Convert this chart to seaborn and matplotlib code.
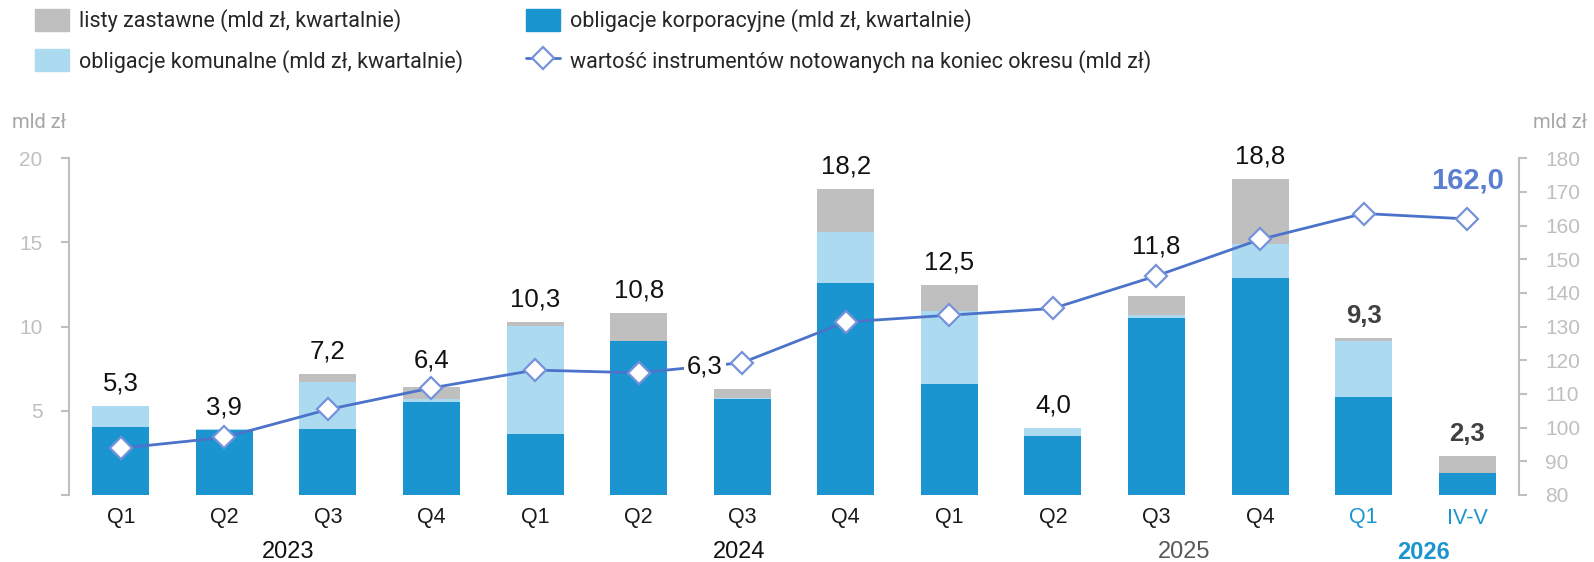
import numpy as np
import pandas as pd
import matplotlib
matplotlib.use('Agg')
import matplotlib.pyplot as plt
import matplotlib.transforms as mtransforms
from matplotlib.patches import Patch
from matplotlib.lines import Line2D
import seaborn as sns

# dane
okresy = ['2023 Q1', '2023 Q2', '2023 Q3', '2023 Q4', '2024 Q1', '2024 Q2', '2024 Q3', '2024 Q4',
          '2025 Q1', '2025 Q2', '2025 Q3', '2025 Q4', '2026 Q1', '2026 IV-V']
kwartaly = ['Q1', 'Q2', 'Q3', 'Q4', 'Q1', 'Q2', 'Q3', 'Q4', 'Q1', 'Q2', 'Q3', 'Q4', 'Q1', 'IV-V']
lata = ['2023', '2024', '2025', '2026']
korporacyjne = [4.05, 3.85, 3.95, 5.5, 3.6, 9.15, 5.7, 12.6, 6.6, 3.5, 10.5, 12.9, 5.8, 1.3]
komunalne = [1.25, 0.05, 2.75, 0.2, 6.45, 0.0, 0.05, 3.0, 4.3, 0.5, 0.2, 2.0, 3.35, 0.0]
listy = [0.0, 0.0, 0.5, 0.7, 0.25, 1.65, 0.55, 2.6, 1.6, 0.0, 1.1, 3.9, 0.15, 1.0]
wartosc = [93.9, 97.1, 105.4, 111.8, 117.1, 116.3, 119.3, 131.4, 133.4, 135.4, 145.1, 155.9, 163.6, 162.0]

df = pd.DataFrame({'okres': okresy, 'korp': korporacyjne, 'kom': komunalne, 'listy': listy,
                   'wartosc': wartosc})
df['korp_kom'] = df['korp'] + df['kom']
df['suma'] = df['korp_kom'] + df['listy']
df['poz'] = np.arange(len(df))

C_KORP = '#1B95CF'
C_KOM = '#ABDAF1'
C_LISTY = '#BFBFBF'
C_LINIA = '#4A73C9'
C_MARKER = '#7592DA'
C_OS = '#BFBFBF'

sns.set_theme(style='white')
plt.rcParams['font.family'] = ['Liberation Sans', 'DejaVu Sans']

fig = plt.figure(figsize=(15.94, 5.62), dpi=100)
ax = fig.add_axes([69 / 1594, 1 - 495 / 562, (1519 - 69) / 1594, (495 - 158.3) / 562])

# słupki skumulowane (nakładane od sumy do korporacyjnych)
sns.barplot(data=df, x='okres', y='suma', order=okresy, color=C_LISTY, width=0.55,
            saturation=1, linewidth=0, ax=ax)
sns.barplot(data=df, x='okres', y='korp_kom', order=okresy, color=C_KOM, width=0.55,
            saturation=1, linewidth=0, ax=ax)
sns.barplot(data=df, x='okres', y='korp', order=okresy, color=C_KORP, width=0.55,
            saturation=1, linewidth=0, ax=ax)

ax.set_xlim(-0.5, 13.5)
ax.set_ylim(0, 20)
ax.set_yticks([0, 5, 10, 15, 20])
ax.set_yticklabels(['', '5', '10', '15', '20'])
ax.set_xlabel('')
ax.set_ylabel('')
ax.set_xticks(range(len(kwartaly)))
ax.set_xticklabels(kwartaly, fontsize=15.5)
for i, t in enumerate(ax.get_xticklabels()):
    t.set_color(C_KORP if i >= 12 else '#1a1a1a')
ax.tick_params(axis='x', length=0, pad=9)
ax.tick_params(axis='y', colors=C_OS, labelsize=15, length=6, width=1.5, pad=13, direction='out',
               left=True)
for s in ['top', 'right', 'bottom']:
    ax.spines[s].set_visible(False)
ax.spines['left'].set_color(C_OS)
ax.spines['left'].set_linewidth(1.5)

# oś prawa - wartość instrumentów
ax2 = ax.twinx()
sns.lineplot(data=df, x='poz', y='wartosc', sort=False, color=C_LINIA, lw=2, marker='D',
             markersize=11, markerfacecolor='white', markeredgecolor=C_MARKER,
             markeredgewidth=1.6, ax=ax2)
ax2.set_ylim(80, 180)
ax2.set_yticks(range(80, 181, 10))
ax2.set_ylabel('')
ax2.set_xlim(-0.5, 13.5)
ax2.tick_params(axis='y', colors=C_OS, labelsize=15, length=6, width=1.5, pad=13, direction='out',
                right=True)
for s in ['top', 'left', 'bottom']:
    ax2.spines[s].set_visible(False)
ax2.spines['right'].set_color(C_OS)
ax2.spines['right'].set_linewidth(1.5)

# etykiety sum
przesun = {3: (0, 19), 6: (-0.36, None), 10: (0, 36)}
for i, v in enumerate(df['suma']):
    tekst = f'{v:.1f}'.replace('.', ',')
    dx, dy = przesun.get(i, (0, 16))
    kw = dict(fontsize=18.5, color='#111111', ha='center', va='center', zorder=10)
    if i >= 12:
        kw.update(color='#404040', fontweight='bold')
    if i == 6:
        ax2.annotate(tekst, xy=(i + dx, 7.62), xycoords=ax.transData, bbox=dict(
            boxstyle='square,pad=0.12', fc='white', ec='none'), **kw)
    else:
        ax2.annotate(tekst, xy=(i + dx, v), xycoords=ax.transData, xytext=(0, dy),
                     textcoords='offset points', **kw)

ax2.annotate(f'{wartosc[-1]:.1f}'.replace('.', ','), xy=(13, wartosc[-1]), xytext=(0, 28),
             textcoords='offset points', ha='center', va='center', fontsize=21,
             fontweight='bold', color='#5A7ED0')

# lata pod osią
poz_lat = [1.62, 5.97, 10.27, 12.58]
kol_lat = ['#111111', '#111111', '#595959', C_KORP]
trans = mtransforms.blended_transform_factory(ax.transData, ax.transAxes)
for x, rok, c in zip(poz_lat, lata, kol_lat):
    ax.text(x, -0.17, rok, transform=trans, ha='center', va='center', fontsize=17, color=c,
            fontweight='bold' if rok == '2026' else 'normal')

fig.text(12 / 1594, 1 - 123 / 562, 'mld zł', fontsize=14.5, color='#A6A6A6', va='center',
         family=['Roboto', 'DejaVu Sans'])
fig.text(1533 / 1594, 1 - 123 / 562, 'mld zł', fontsize=14.5, color='#A6A6A6', va='center',
         family=['Roboto', 'DejaVu Sans'])

uchwyty = [Patch(color=C_LISTY), Patch(color=C_KOM), Patch(color=C_KORP),
           Line2D([], [], color=C_LINIA, lw=2, marker='D', markersize=11, markerfacecolor='white',
                  markeredgecolor=C_MARKER, markeredgewidth=1.6)]
etykiety = ['listy zastawne (mld zł, kwartalnie)', 'obligacje komunalne (mld zł, kwartalnie)',
            'obligacje korporacyjne (mld zł, kwartalnie)',
            'wartość instrumentów notowanych na koniec okresu (mld zł)']
fig.legend(uchwyty, etykiety, ncol=2, loc='upper left', bbox_to_anchor=(35 / 1594, 1 - 9 / 562),
           frameon=False, borderpad=0, borderaxespad=0, handlelength=1.6, handleheight=1.2,
           handletextpad=0.45, labelspacing=0.78, columnspacing=2.9,
           prop={'family': ['Roboto', 'DejaVu Sans'], 'size': 15.5}, labelcolor='#262626')

fig.savefig('out.png', dpi=100)
